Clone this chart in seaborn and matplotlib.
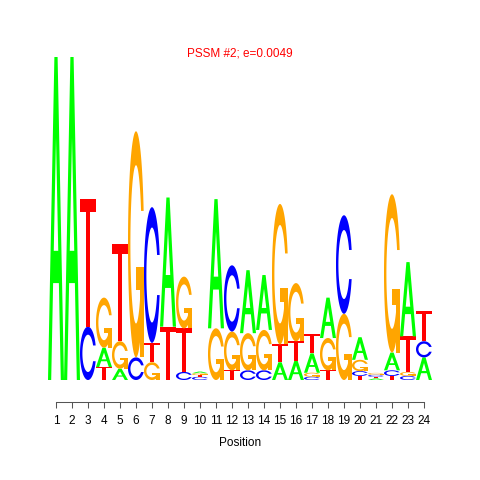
import matplotlib
matplotlib.use("Agg")
import matplotlib.pyplot as plt
from matplotlib.patches import Polygon
import numpy as np
import seaborn as sns

TITLE = "PSSM #2; e=0.0049"
XLABEL = "Position"
POSITIONS = list(range(1, 25))

# letters of each column, bottom to top, with their heights in bits
COLUMN_LETTERS = [
    "A", "A", "CT", "TAG", "AGT", "CG", "GTC", "TA", "CTG", "CTGA",
    "GA", "TGC", "CGA", "CGA", "ATG", "ATG", "CGAT", "TGA", "GC", "TCGA",
    "ATCG", "TCAG", "CGTA", "ACT",
]
COLUMN_HEIGHTS = [
    [2.00], [2.00], [0.33, 0.79], [0.08, 0.12, 0.31], [0.07, 0.17, 0.60],
    [0.14, 1.40], [0.11, 0.12, 0.84], [0.33, 0.80], [0.05, 0.27, 0.32],
    [0.02, 0.01, 0.012, 0.01], [0.32, 0.80], [0.06, 0.24, 0.41],
    [0.06, 0.23, 0.39], [0.06, 0.25, 0.34], [0.11, 0.11, 0.87],
    [0.12, 0.12, 0.36], [0.02, 0.025, 0.12, 0.12], [0.06, 0.20, 0.25],
    [0.41, 0.61], [0.025, 0.03, 0.07, 0.14], [0.01, 0.01, 0.012, 0.012],
    [0.025, 0.035, 0.11, 0.98], [0.025, 0.025, 0.22, 0.46], [0.14, 0.10, 0.19],
]

LETTER_COLORS = {"A": "#00FF00", "C": "#0000FF", "G": "#FFA500", "T": "#FF0000"}

sns.set_style("ticks")
plt.rcParams["font.family"] = ["Liberation Sans", "DejaVu Sans"]


def ring_shape():
    # C-shaped ring in the unit square (same construction as seqLogo)
    a1 = np.linspace(0.3 + np.pi / 2, np.pi, 100)
    a2 = np.linspace(np.pi, 1.5 * np.pi, 100)
    xl1, yl1 = 0.5 + 0.5 * np.sin(a1), 0.5 + 0.5 * np.cos(a1)
    xl2, yl2 = 0.5 + 0.5 * np.sin(a2), 0.5 + 0.5 * np.cos(a2)
    xl, yl = np.r_[xl1, xl2], np.r_[yl1, yl2]
    x, y = np.r_[xl, xl[::-1]], np.r_[yl, 1 - yl[::-1]]
    xi1, yi1 = 0.5 + 0.35 * np.sin(a1), 0.5 + 0.35 * np.cos(a1)
    keep = yi1 <= yl1.max()
    xi1, yi1 = xi1[keep], yi1[keep]
    yi1[0] = yl1.max()
    xi2, yi2 = 0.5 + 0.35 * np.sin(a2), 0.5 + 0.35 * np.cos(a2)
    xi, yi = np.r_[xi1, xi2], np.r_[yi1, yi2]
    x1, y1 = np.r_[xi, xi[::-1]], np.r_[yi, 1 - yi[::-1]]
    x, y = np.r_[x, x1[::-1]], np.r_[y, y1[::-1]]
    return np.column_stack([x, y]), xl1.max()


def letter_shapes(letter):
    col = LETTER_COLORS[letter]
    if letter == "A":
        outer = [(0, 0), (.4, 1), (.6, 1), (1, 0), (.8, 0), (.68, .3), (.32, .3), (.2, 0)]
        hole = [(.36, .4), (.5, .75), (.64, .4)]
        return [(np.array(outer, float), col), (np.array(hole, float), "white")]
    if letter == "T":
        t = [(0, 1), (1, 1), (1, .9), (.6, .9), (.6, 0), (.4, 0), (.4, .9), (0, .9)]
        return [(np.array(t, float), col)]
    ring, r1 = ring_shape()
    if letter == "C":
        return [(ring, col)]
    bar = [(r1, .4), (.5, .4), (.5, .3), (r1 - .2, .3), (r1 - .2, 0), (r1, 0)]
    return [(ring, col), (np.array(bar, float), col)]


fig, ax = plt.subplots(figsize=(4.8, 4.8), dpi=100)
fig.subplots_adjust(left=48 / 480, right=432 / 480, bottom=100 / 480, top=423 / 480)

for pos, letters, heights in zip(POSITIONS, COLUMN_LETTERS, COLUMN_HEIGHTS):
    y0 = 0.0
    for letter, h in zip(letters, heights):
        for shape, col in letter_shapes(letter):
            xy = shape.copy()
            xy[:, 0] = pos - 0.5 + xy[:, 0]
            xy[:, 1] = y0 + h * xy[:, 1]
            ax.add_patch(Polygon(xy, closed=True, facecolor=col, edgecolor="none", lw=0))
        y0 += h

ax.set_xlim(0.5, 24.5)
ax.set_ylim(0, 2)
ax.set_xticks(POSITIONS)
ax.set_yticks([])
ax.tick_params(axis="x", length=4.3, width=0.75, color="#555555", pad=5,
               labelsize=8.5, labelcolor="black")
ax.set_xlabel(XLABEL, fontsize=8.5, color="black", labelpad=7)
sns.despine(ax=ax, left=True, offset=16, trim=True)
ax.spines["bottom"].set_color("#555555")
ax.spines["bottom"].set_linewidth(0.75)

fig.text(0.5, 1 - 53 / 480, TITLE, color="red", ha="center", va="center", fontsize=8.5)

fig.savefig("out.png", dpi=100)
